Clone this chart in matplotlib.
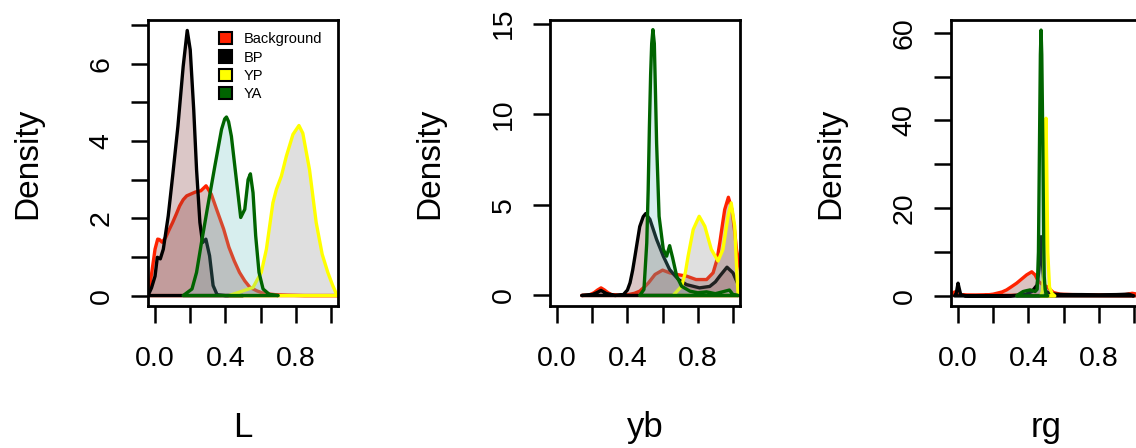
import matplotlib
matplotlib.use('Agg')
import matplotlib.pyplot as plt
import numpy as np
from matplotlib.patches import Patch

matplotlib.rcParams['font.family'] = 'Liberation Sans'

# series names and colours
names = ['Background', 'BP', 'YP', 'YA']
line_cols = ['#ff2200', '#000000', '#ffff00', '#006400']
fill_cols = [(0.54, 0.22, 0.22, 0.3), (0.54, 0.28, 0.28, 0.3),
             (0.5, 0.5, 0.5, 0.25), (0.39, 0.75, 0.75, 0.25)]

# ---- panel L ----
L_bg_x = [-0.04, -0.02, 0.0, 0.015, 0.025, 0.04, 0.06, 0.08, 0.10, 0.12, 0.14, 0.16, 0.18,
          0.21, 0.23, 0.26, 0.29, 0.32, 0.35, 0.39, 0.42, 0.45, 0.48, 0.51, 0.54, 0.58,
          0.61, 0.65, 0.69, 0.75, 0.85, 0.95, 1.04]
L_bg_y = [0.0, 0.55, 1.2, 1.46, 1.45, 1.38, 1.5, 1.7, 1.89, 2.1, 2.32, 2.48, 2.58,
          2.64, 2.68, 2.71, 2.84, 2.62, 2.23, 1.72, 1.25, 0.9, 0.6, 0.38, 0.21, 0.12,
          0.07, 0.04, 0.02, 0.01, 0.0, 0.0, 0.0]
L_bp_x = [-0.04, -0.02, 0.0, 0.013, 0.03, 0.047, 0.075, 0.10, 0.13, 0.16, 0.183, 0.20,
          0.22, 0.236, 0.255, 0.27, 0.289, 0.31, 0.33, 0.353, 0.40, 0.5]
L_bp_y = [0.0, 0.2, 0.5, 0.99, 0.95, 1.2, 2.06, 3.09, 4.38, 5.93, 6.86, 6.36,
          4.8, 3.26, 1.89, 1.37, 1.46, 1.03, 0.26, 0.02, 0.0, 0.0]
L_yp_x = [0.42, 0.48, 0.557, 0.604, 0.633, 0.67, 0.69, 0.718, 0.746, 0.784, 0.818, 0.84,
          0.878, 0.916, 0.95, 0.982, 1.01, 1.035]
L_yp_y = [0.0, 0.09, 0.21, 0.6, 1.2, 2.4, 2.75, 3.09, 3.6, 4.17, 4.4, 4.2,
          3.26, 1.89, 1.07, 0.6, 0.26, 0.0]
L_ya_x = [0.16, 0.21, 0.236, 0.264, 0.30, 0.34, 0.378, 0.396, 0.406, 0.418, 0.434, 0.46,
          0.487, 0.51, 0.529, 0.542, 0.557, 0.572, 0.591, 0.614, 0.65, 0.70]
L_ya_y = [0.0, 0.17, 0.6, 1.37, 2.32, 3.35, 4.3, 4.57, 4.62, 4.5, 4.12, 3.09,
          2.02, 2.23, 3.0, 3.15, 2.66, 1.55, 0.6, 0.17, 0.03, 0.0]

# ---- panel yb ----
yb_bg_x = [0.14, 0.18, 0.21, 0.23, 0.25, 0.27, 0.29, 0.31, 0.35, 0.40, 0.44, 0.47, 0.50,
           0.52, 0.557, 0.60, 0.64, 0.68, 0.736, 0.79, 0.85, 0.887, 0.91, 0.925, 0.94,
           0.953, 0.974, 0.994, 1.01, 1.02, 1.05, 1.08, 1.10]
yb_bg_y = [0.0, 0.02, 0.15, 0.3, 0.42, 0.3, 0.15, 0.05, 0.02, 0.04, 0.12, 0.24, 0.5,
           0.7, 1.16, 1.4, 1.25, 1.16, 1.07, 0.88, 0.88, 1.25, 2.0, 2.9, 3.9,
           4.74, 5.42, 4.74, 3.5, 2.54, 1.0, 0.2, 0.0]
yb_bp_x = [0.14, 0.2, 0.225, 0.25, 0.28, 0.33, 0.377, 0.40, 0.415, 0.43, 0.443, 0.47,
           0.49, 0.504, 0.528, 0.566, 0.604, 0.64, 0.69, 0.736, 0.81, 0.868, 0.90, 0.925,
           0.966, 1.0, 1.034, 1.06, 1.09]
yb_bp_y = [0.0, 0.05, 0.15, 0.28, 0.11, 0.0, 0.05, 0.3, 0.7, 1.4, 2.17, 3.8,
           4.35, 4.52, 4.2, 3.09, 2.17, 1.43, 0.88, 0.6, 0.42, 0.5, 0.75, 1.07,
           1.56, 1.25, 0.5, 0.1, 0.0]
yb_yp_x = [0.66, 0.708, 0.73, 0.745, 0.774, 0.808, 0.84, 0.877, 0.915, 0.943, 0.972,
           0.99, 1.01, 1.023, 1.03]
yb_yp_y = [0.0, 0.51, 1.3, 2.17, 3.64, 4.37, 3.82, 2.54, 1.9, 2.54, 4.37,
           5.11, 3.82, 1.07, 0.0]
yb_ya_x = [0.47, 0.494, 0.51, 0.518, 0.525, 0.532, 0.538, 0.545, 0.553, 0.56, 0.566,
           0.58, 0.604, 0.623, 0.64, 0.657, 0.68, 0.708, 0.755, 0.80, 0.85, 0.90,
           0.94, 0.98, 1.0, 1.03]
yb_ya_y = [0.0, 0.33, 2.9, 5.8, 9.3, 12.2, 13.9, 14.67, 13.9, 11.0, 8.4,
           4.37, 2.54, 2.17, 2.75, 2.08, 1.07, 0.51, 0.24, 0.15, 0.2, 0.1,
           0.2, 0.3, 0.05, 0.0]

# ---- panel rg ----
rg_bg_x = [-0.04, -0.03, -0.02, 0.0, 0.02, 0.05, 0.1, 0.15, 0.2, 0.22, 0.25, 0.276,
           0.30, 0.333, 0.36, 0.39, 0.419, 0.438, 0.457, 0.48, 0.505, 0.525, 0.543,
           0.58, 0.65, 0.75, 0.85, 0.95, 0.99, 1.02, 1.06]
rg_bg_y = [0.2, 0.6, 0.9, 0.5, 0.2, 0.1, 0.1, 0.15, 0.4, 0.6, 0.9, 1.37,
           2.0, 2.9, 3.8, 4.8, 5.5, 4.8, 3.3, 2.6, 2.1, 1.4, 0.76,
           0.4, 0.3, 0.25, 0.2, 0.3, 0.6, 0.4, 0.0]
rg_bp_x = [-0.02, -0.01, 0.0, 0.005, 0.015, 0.04, 0.1, 0.2, 0.3, 0.38, 0.42, 0.45,
           0.46, 0.472, 0.482, 0.49, 0.50, 0.52, 0.55, 0.6, 0.7, 0.8, 0.9, 0.97, 1.0]
rg_bp_y = [0.0, 0.6, 2.9, 2.0, 0.3, 0.05, 0.0, 0.0, 0.05, 0.3, 1.0, 2.5,
           6.0, 13.5, 6.0, 2.0, 1.0, 0.6, 0.4, 0.3, 0.3, 0.25, 0.3, 0.4, 0.0]
rg_yp_x = [0.47, 0.48, 0.486, 0.492, 0.497, 0.5, 0.504, 0.51, 0.52, 0.535, 0.55]
rg_yp_y = [0.0, 1.0, 5.0, 18.0, 38.0, 40.5, 30.0, 10.0, 2.0, 0.5, 0.0]
rg_ya_x = [0.333, 0.35, 0.37, 0.39, 0.41, 0.425, 0.438, 0.45, 0.457, 0.463, 0.468,
           0.472, 0.476, 0.482, 0.487, 0.49, 0.495, 0.50, 0.51]
rg_ya_y = [0.0, 0.5, 1.0, 1.2, 1.37, 1.2, 1.0, 1.5, 10.0, 34.8, 55.0,
           60.6, 55.0, 34.8, 12.0, 4.4, 1.5, 0.5, 0.0]

panels = [
    ('L', [(L_bg_x, L_bg_y), (L_bp_x, L_bp_y), (L_yp_x, L_yp_y), (L_ya_x, L_ya_y)],
     (-0.27, 7.13), np.arange(0, 8, 1), {0, 2, 4, 6}),
    ('yb', [(yb_bg_x, yb_bg_y), (yb_bp_x, yb_bp_y), (yb_yp_x, yb_yp_y), (yb_ya_x, yb_ya_y)],
     (-0.58, 15.2), np.arange(0, 16, 5), {0, 5, 10, 15}),
    ('rg', [(rg_bg_x, rg_bg_y), (rg_bp_x, rg_bp_y), (rg_yp_x, rg_yp_y), (rg_ya_x, rg_ya_y)],
     (-2.3, 62.9), np.arange(0, 61, 10), {0, 20, 40, 60}),
]

W, H = 1136, 448
fig = plt.figure(figsize=(W / 100, H / 100), dpi=100)
lefts = [148, 550, 951]

for (lab, series, ylim, yt, ylab_set), lx in zip(panels, lefts):
    ax = fig.add_axes([lx / W, 1 - 306 / H, 190 / W, 286 / H])
    for (xs, ys), lc, fc in zip(series, line_cols, fill_cols):
        ax.fill(xs, ys, facecolor=fc, edgecolor=lc, lw=2.4, joinstyle='round')
    ax.set_xlim(-0.04, 1.04)
    ax.set_ylim(*ylim)
    xt = np.round(np.arange(0, 1.01, 0.2), 1)
    ax.set_xticks(xt)
    ax.set_xticklabels(['%.1f' % v if v in (0.0, 0.4, 0.8) else '' for v in xt])
    ax.set_yticks(yt)
    ax.set_yticklabels([str(v) if v in ylab_set else '' for v in yt])
    for s in ax.spines.values():
        s.set_linewidth(2)
    ax.tick_params(direction='out', length=12, width=1.8, labelsize=20.5)
    ax.tick_params(axis='x', pad=17)
    ax.tick_params(axis='y', pad=12, labelrotation=90)
    for t in ax.get_yticklabels():
        t.set_va('center')
    ax.text(0.5, -0.457, lab, transform=ax.transAxes, ha='center', va='baseline',
            fontsize=25)
    ax.text(-0.589, 0.5, 'Density', transform=ax.transAxes, rotation=90,
            rotation_mode='anchor', ha='center', va='baseline', fontsize=24)
    if lab == 'L':
        handles = [Patch(facecolor=c, edgecolor='black', lw=1.5) for c in line_cols]
        ax.legend(handles, names, loc='upper left', bbox_to_anchor=(0.375, 0.958),
                  frameon=False, fontsize=10.5, handlelength=0.9, handleheight=0.9,
                  handletextpad=0.8, labelspacing=0.3, borderpad=0, borderaxespad=0)

fig.savefig('out.png', dpi=100)
